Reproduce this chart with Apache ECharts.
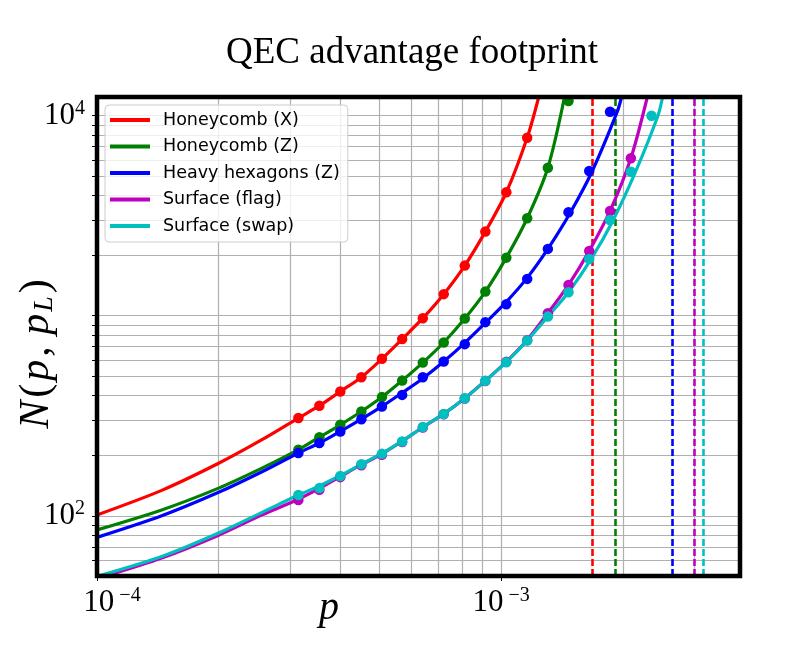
<!DOCTYPE html>
<html>
<head>
<meta charset="utf-8">
<script src="https://cdn.jsdelivr.net/npm/echarts@6/dist/echarts.min.js"></script>
<style>
  html, body { margin: 0; padding: 0; background: #fff; }
  #chart { width: 789px; height: 646px; }
</style>
</head>
<body>
<div id="chart"></div>
<script>
// QEC advantage footprint: N(p, pL) against p, log-log

const names = ['Honeycomb (X)', 'Honeycomb (Z)', 'Heavy hexagons (Z)', 'Surface (flag)', 'Surface (swap)']
const colors = ['#ff0000', '#008000', '#0000ff', '#bf00bf', '#00bfbf']

// p of the simulated points (same for every code)
const pDots = [3.15e-4, 3.55e-4, 4.0e-4, 4.51e-4, 5.07e-4, 5.69e-4, 6.40e-4, 7.21e-4, 8.13e-4,
  9.14e-4, 1.03e-3, 1.16e-3, 1.305e-3, 1.468e-3, 1.652e-3, 1.86e-3, 2.094e-3, 2.356e-3]

// simulated points, N for each p above
const dotsHoneyX = [308, 355, 418, 493, 609, 764, 972, 1282, 1781, 2633, 4143, 7762]
const dotsHoneyZ = [214, 247, 285, 332, 392, 474, 583, 735, 968, 1320, 1952, 3072, 5497, 11840]
const dotsHeavy = [206, 231, 264, 304, 352, 402, 493, 590, 721, 929, 1142, 1528, 2158, 3291, 5291, 10470]
const dotsFlag = [120, 135, 156, 179, 202, 234, 276, 322, 386, 472, 588, 755, 1030, 1426, 2109, 3341, 6126]
const dotsSwap = [127, 137.5, 158, 181, 204, 235, 277.5, 323, 387, 472.5, 586, 751, 990, 1311, 1923, 3012, 5251, 10000]

// fitted curves (p, N)
const curveHoneyXP = [1e-4, 1.446e-4, 2e-4, 2.56e-4, 3.15e-4, 3.55e-4, 4.0e-4, 4.51e-4, 5.07e-4, 5.69e-4,
  6.40e-4, 7.21e-4, 8.13e-4, 9.14e-4, 1.03e-3, 1.16e-3, 1.239e-3]
const curveHoneyXN = [101, 134, 183, 240, 308, 355, 418, 493, 609, 764, 972, 1282, 1781, 2633, 4143, 7762, 12400]

const curveHoneyZP = [1e-4, 1.446e-4, 2e-4, 2.56e-4, 3.15e-4, 3.55e-4, 4.0e-4, 4.51e-4, 5.07e-4, 5.69e-4,
  6.40e-4, 7.21e-4, 8.13e-4, 9.14e-4, 1.03e-3, 1.16e-3, 1.305e-3, 1.435e-3]
const curveHoneyZN = [85, 107, 137.5, 173, 214, 247, 285, 332, 392, 474, 583, 735, 968, 1320, 1952, 3072, 5497, 12400]

const curveHeavyP = [1e-4, 1.446e-4, 2e-4, 2.56e-4, 3.15e-4, 3.55e-4, 4.0e-4, 4.51e-4, 5.07e-4, 5.69e-4,
  6.40e-4, 7.21e-4, 8.13e-4, 9.14e-4, 1.03e-3, 1.16e-3, 1.305e-3, 1.485e-3, 1.681e-3, 1.938e-3, 1.986e-3]
const curveHeavyN = [78, 100, 131, 166, 206, 231, 264, 304, 352, 412, 486, 590, 732, 921, 1173, 1546, 2158,
  3291, 5291, 10470, 12400]

const curveFlagP = [1.05e-4, 1.446e-4, 2e-4, 2.56e-4, 3.15e-4, 3.55e-4, 4.0e-4, 4.51e-4, 5.07e-4, 5.69e-4,
  6.40e-4, 7.21e-4, 8.13e-4, 9.14e-4, 1.03e-3, 1.16e-3, 1.305e-3, 1.468e-3, 1.652e-3, 1.86e-3, 2.094e-3, 2.3e-3]
const curveFlagN = [50, 61.5, 80, 101, 121, 137, 157, 180, 204, 236, 277, 323, 387, 473, 590, 757, 1030,
  1426, 2109, 3341, 6126, 12400]

const curveSwapP = [1e-4, 1.446e-4, 2e-4, 2.56e-4, 3.15e-4, 3.55e-4, 4.0e-4, 4.51e-4, 5.07e-4, 5.69e-4,
  6.40e-4, 7.21e-4, 8.13e-4, 9.14e-4, 1.03e-3, 1.16e-3, 1.305e-3, 1.468e-3, 1.671e-3, 1.894e-3, 2.151e-3,
  2.443e-3, 2.509e-3]
const curveSwapN = [49.8, 62.6, 82, 104, 127, 141, 159, 181, 205, 236, 277.5, 323, 387, 472.5, 586, 751,
  990, 1311, 1923, 3012, 5251, 10000, 12400]

// threshold p (dashed verticals)
const thresholds = [1.68e-3, 1.917e-3, 2.657e-3, 3.0e-3, 3.166e-3]

// axes
const xMin = 1e-4, xMax = 3.9e-3
const yMin = 50, yMax = 12400
const xGrid = [1e-4, 2e-4, 3e-4, 4e-4, 5e-4, 6e-4, 7e-4, 8e-4, 9e-4, 1e-3, 2e-3, 3e-3]
const yGrid = [60, 70, 80, 90, 100, 200, 300, 400, 500, 600, 700, 800, 900,
  1000, 2000, 3000, 4000, 5000, 6000, 7000, 8000, 9000, 10000]
const xTicks = [1e-4, 1e-3]
const yTicks = yGrid
const xLabels = [1e-4, 1e-3]
const yLabels = [100, 10000]

const dots = [dotsHoneyX, dotsHoneyZ, dotsHeavy, dotsFlag, dotsSwap]
const curves = [
  [curveHoneyXP, curveHoneyXN],
  [curveHoneyZP, curveHoneyZN],
  [curveHeavyP, curveHeavyN],
  [curveFlagP, curveFlagN],
  [curveSwapP, curveSwapN]
]

const serif = 'Liberation Serif'
const expRich = {
  b: {fontFamily: serif, fontSize: 31, lineHeight: 34, color: '#000'},
  b0: {fontFamily: serif, fontSize: 31, lineHeight: 34, color: '#000', padding: [0, 0, 0, 30]},
  s: {fontFamily: serif, fontSize: 20, lineHeight: 22, verticalAlign: 'top', color: '#000'}
}
const expLabel = (v, first) => {
  const e = Math.round(Math.log10(v))
  const sup = e < 0 ? ' \u2212' + (-e) : String(e)
  return '{' + (first ? 'b0' : 'b') + '|10}{s|' + sup + '}'
}

const chart = echarts.init(document.getElementById('chart'))

const series = []

// grid lines (major and minor)
series.push({
  type: 'lines',
  coordinateSystem: 'cartesian2d',
  name: 'grid',
  silent: true,
  z: 1,
  lineStyle: {color: '#b0b0b0', width: 1.2, opacity: 1, type: 'solid'},
  data: xGrid.map(v => ({coords: [[v, yMin], [v, yMax]]}))
    .concat(yGrid.map(v => ({coords: [[xMin, v], [xMax, v]]})))
})

names.forEach((name, i) => {
  // threshold
  series.push({
    type: 'lines',
    coordinateSystem: 'cartesian2d',
    name: name + ' threshold',
    silent: true,
    z: 3,
    lineStyle: {color: colors[i], width: 2.6, opacity: 1, type: [7, 3]},
    data: [{coords: [[thresholds[i], yMin], [thresholds[i], yMax]]}]
  })
  // curve
  series.push({
    type: 'line',
    name: name,
    data: curves[i][0].map((p, j) => [p, curves[i][1][j]]),
    showSymbol: false,
    smooth: 0.3,
    clip: true,
    z: 4,
    color: colors[i],
    lineStyle: {width: 3.2, color: colors[i]},
    emphasis: {disabled: true}
  })
  // simulated points
  series.push({
    type: 'scatter',
    name: name + ' points',
    data: dots[i].map((n, j) => [pDots[j], n]),
    symbolSize: 10.5,
    clip: true,
    z: 5,
    itemStyle: {color: colors[i], opacity: 1},
    emphasis: {disabled: true}
  })
})

const option = {
  animation: false,
  title: {
    text: 'QEC advantage footprint',
    left: 407,
    top: 30,
    textAlign: 'center',
    textStyle: {fontFamily: serif, fontSize: 37, fontWeight: 'normal', color: '#000'}
  },
  legend: {
    data: names,
    orient: 'vertical',
    left: 105,
    top: 105,
    z: 20,
    padding: [5, 8, 6, 5],
    itemGap: 6.5,
    itemWidth: 40,
    itemHeight: 4,
    icon: 'rect',
    backgroundColor: 'rgba(255,255,255,0.8)',
    borderColor: '#cccccc',
    borderWidth: 1,
    borderRadius: 4,
    selectedMode: false,
    textStyle: {fontFamily: 'DejaVu Sans', fontSize: 17.5, lineHeight: 20, color: '#000', padding: [0, 0, 0, 8]}
  },
  grid: {
    left: 97,
    right: 49,
    top: 97,
    bottom: 70,
    outerBoundsMode: 'none',
    containLabel: false,
    show: true,
    z: 10,
    borderColor: '#000',
    borderWidth: 4.5,
    backgroundColor: 'transparent'
  },
  xAxis: {
    type: 'log',
    logBase: 10,
    min: xMin,
    max: xMax,
    name: '{p|p}',
    nameLocation: 'middle',
    nameGap: 12,
    nameMoveOverlap: false,
    nameTextStyle: {
      padding: [0, 179, 0, 0],
      rich: {p: {fontFamily: serif, fontSize: 40, fontStyle: 'italic', color: '#000'}}
    },
    axisLine: {show: false},
    axisTick: {show: true, customValues: xTicks, length: 5, lineStyle: {color: '#000', width: 1}},
    splitLine: {show: false},
    axisLabel: {
      customValues: xLabels,
      margin: 10,
      formatter: v => expLabel(v, Math.abs(v - xMin) < 1e-9),
      rich: expRich
    }
  },
  yAxis: {
    type: 'log',
    logBase: 10,
    min: yMin,
    max: yMax,
    name: '{i|N}{r|(}{i|p}{r|,\u2009}{i|p}{sub|L}{r|)}',
    nameLocation: 'middle',
    nameGap: 38,
    nameMoveOverlap: false,
    nameTextStyle: {
      padding: [0, 32, 0, 0],
      rich: {
        i: {fontFamily: serif, fontSize: 42, fontStyle: 'italic', lineHeight: 44, color: '#000'},
        r: {fontFamily: serif, fontSize: 42, lineHeight: 44, color: '#000', padding: [0, 3, 0, 3]},
        sub: {fontFamily: serif, fontSize: 28, fontStyle: 'italic', lineHeight: 28, verticalAlign: 'bottom',
          color: '#000', padding: [0, 0, 0, 2]}
      }
    },
    axisLine: {show: false},
    axisTick: {show: true, customValues: yTicks, length: 5, lineStyle: {color: '#000', width: 1}},
    splitLine: {show: false},
    axisLabel: {
      customValues: yLabels,
      margin: 12,
      formatter: v => expLabel(v, false),
      rich: expRich
    }
  },
  series: series
}

option && chart.setOption(option)
</script>
</body>
</html>
